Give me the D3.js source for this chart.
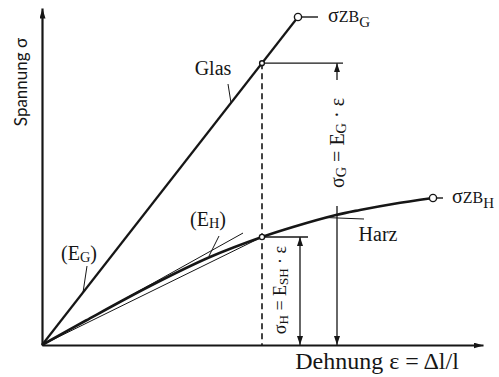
<!DOCTYPE html>
<html>
<head>
<meta charset="utf-8">
<script src="https://cdn.jsdelivr.net/npm/d3@7"></script>
<style>
  html, body { margin: 0; padding: 0; background: #fff; }
  svg { display: block; }
  .serif { font-family: "Liberation Serif", "DejaVu Serif", serif; fill: #161616; }
  .sans { font-family: "Lato", "Open Sans", sans-serif; fill: #161616; }
</style>
</head>
<body>
<svg id="chart" width="499" height="377"></svg>
<script>
// Stress–strain curves: glass (linear to break) and resin (non-linear)
const glassStrain = [0, 2.56];
const glassStress = [0, 3.28];

const resinStrain = [0, 0.44, 1.08, 1.68, 2.20, 2.51, 2.94, 3.18, 3.51, 3.91];
const resinStress = [0, 0.245, 0.59, 0.88, 1.08, 1.18, 1.30, 1.35, 1.41, 1.47];

// common strain at which both stresses are compared
const refStrain = 2.20;
// initial tangent of the resin curve (E_H)
const resinTangentSlope = 0.557;
const resinTangentEnd = 2.01;

const svg = d3.select("#chart");
const ink = "#161616";

const x = d3.scaleLinear().domain([0, 4.41]).range([42, 483]);
const y = d3.scaleLinear().domain([0, 3.37]).range([345, 8]);

const glassModulus = glassStress[1] / glassStrain[1];
const sigmaG = glassModulus * refStrain;
const sigmaH = resinStress[resinStrain.indexOf(refStrain)];

// arrowhead markers
const defs = svg.append("defs");
function marker(id, w, h) {
  defs.append("marker")
    .attr("id", id)
    .attr("viewBox", `0 0 ${w} ${h}`)
    .attr("refX", w).attr("refY", h / 2)
    .attr("markerWidth", w).attr("markerHeight", h)
    .attr("markerUnits", "userSpaceOnUse")
    .attr("orient", "auto-start-reverse")
    .append("path")
    .attr("d", `M0,0 L${w},${h / 2} L0,${h} Z`)
    .attr("fill", ink);
}
marker("axisArrow", 10, 6);
marker("dimArrow", 9, 6);

// axes without ticks
const xAxis = svg.append("g")
  .attr("transform", `translate(0,${y(0)})`)
  .call(d3.axisBottom(x).ticks(0).tickSizeOuter(0));
const yAxis = svg.append("g")
  .attr("transform", `translate(${x(0)},0)`)
  .call(d3.axisLeft(y).ticks(0).tickSizeOuter(0));
[xAxis, yAxis].forEach(g => g.select(".domain")
  .attr("stroke", ink).attr("stroke-width", 2.2));
xAxis.select(".domain").attr("marker-end", "url(#axisArrow)");
yAxis.select(".domain").attr("marker-end", "url(#axisArrow)");

// reference strain (dashed)
svg.append("line")
  .attr("x1", x(refStrain)).attr("x2", x(refStrain))
  .attr("y1", y(sigmaG)).attr("y2", y(0))
  .attr("stroke", ink).attr("stroke-width", 1.6)
  .attr("stroke-dasharray", "6,4");

// resin tangent and secant (thin)
svg.append("line")
  .attr("x1", x(0)).attr("y1", y(0))
  .attr("x2", x(resinTangentEnd)).attr("y2", y(resinTangentSlope * resinTangentEnd))
  .attr("stroke", ink).attr("stroke-width", 1);
svg.append("line")
  .attr("x1", x(0)).attr("y1", y(0))
  .attr("x2", x(refStrain)).attr("y2", y(sigmaH))
  .attr("stroke", ink).attr("stroke-width", 1);

// glass line
const line = d3.line().x(d => x(d[0])).y(d => y(d[1]));
svg.append("path")
  .datum(glassStrain.map((e, i) => [e, glassStress[i]]))
  .attr("d", line)
  .attr("fill", "none").attr("stroke", ink).attr("stroke-width", 2.2);

// resin curve
svg.append("path")
  .datum(resinStrain.map((e, i) => [e, resinStress[i]]))
  .attr("d", line.curve(d3.curveCatmullRom.alpha(0.5)))
  .attr("fill", "none").attr("stroke", ink).attr("stroke-width", 2.6);

// dimension lines
const dimG = 2.95, dimGExt = 3.01;
const dimH = 2.58, dimHExt = 2.66;
function hline(e0, e1, s) {
  svg.append("line")
    .attr("x1", x(e0)).attr("x2", x(e1)).attr("y1", y(s)).attr("y2", y(s))
    .attr("stroke", ink).attr("stroke-width", 1.3);
}
hline(refStrain, dimGExt, sigmaG);
hline(refStrain, dimHExt, sigmaH);

// glass dimension arrow, broken around its label
svg.append("line")
  .attr("x1", x(dimG)).attr("x2", x(dimG))
  .attr("y1", 80).attr("y2", y(sigmaG))
  .attr("stroke", ink).attr("stroke-width", 1.3)
  .attr("marker-end", "url(#dimArrow)");
svg.append("line")
  .attr("x1", x(dimG)).attr("x2", x(dimG))
  .attr("y1", 206).attr("y2", y(0))
  .attr("stroke", ink).attr("stroke-width", 1.3)
  .attr("marker-end", "url(#dimArrow)");

// resin dimension arrow
svg.append("line")
  .attr("x1", x(dimH)).attr("x2", x(dimH))
  .attr("y1", y(sigmaH)).attr("y2", y(0))
  .attr("stroke", ink).attr("stroke-width", 1.3)
  .attr("marker-start", "url(#dimArrow)")
  .attr("marker-end", "url(#dimArrow)");

// break points and the short tails to their labels
const glassBreak = [glassStrain[1], glassStress[1]];
const resinBreak = [resinStrain[resinStrain.length - 1], resinStress[resinStress.length - 1]];
svg.append("line")
  .attr("x1", x(glassBreak[0])).attr("x2", x(glassBreak[0]) + 20)
  .attr("y1", y(glassBreak[1])).attr("y2", y(glassBreak[1]))
  .attr("stroke", ink).attr("stroke-width", 1.4);
svg.append("line")
  .attr("x1", x(resinBreak[0])).attr("x2", x(resinBreak[0]) + 10)
  .attr("y1", y(resinBreak[1])).attr("y2", y(resinBreak[1]))
  .attr("stroke", ink).attr("stroke-width", 1.4);

[[glassBreak, 3.6], [resinBreak, 3.6], [[refStrain, sigmaG], 2.4], [[refStrain, sigmaH], 2.6]]
  .forEach(([p, r]) => {
    svg.append("circle")
      .attr("cx", x(p[0])).attr("cy", y(p[1])).attr("r", r)
      .attr("fill", "#fff").attr("stroke", ink).attr("stroke-width", 1.4);
  });

// leader lines for labels
function leader(x1, y1, x2, y2) {
  svg.append("line")
    .attr("x1", x1).attr("y1", y1).attr("x2", x2).attr("y2", y2)
    .attr("stroke", ink).attr("stroke-width", 1);
}
leader(228, 84, x(1.89), y(glassModulus * 1.89));
leader(87, 266, x(0.41), y(glassModulus * 0.41));
leader(219, 236, x(1.67), y(0.89));
leader(x(2.83), y(1.275), 364, 219);

// texts
function label(tx, ty, parts, size, cls, anchor, rotate) {
  const t = svg.append("text")
    .attr("class", cls || "serif")
    .attr("font-size", size)
    .attr("text-anchor", anchor || "start")
    .attr("transform", `translate(${tx},${ty})` + (rotate ? ` rotate(${rotate})` : ""));
  parts.forEach(p => {
    const s = typeof p === "string" ? { t: p } : p;
    const ts = t.append("tspan").text(s.t);
    if (s.sub !== undefined) ts.attr("font-size", size * (s.scale || 0.72)).attr("dy", s.sub);
    if (s.up) ts.attr("dy", -s.up);
  });
  return t;
}

label(213, 75, ["Glas"], 20, "serif", "middle");
label(378, 241, ["Harz"], 20, "serif", "middle");
label(79, 260, ["(E", { t: "G", sub: 2 }, { t: ")", up: 2 }], 20, "serif", "middle");
label(208, 226, ["(E", { t: "H", sub: 2 }, { t: ")", up: 2 }], 20, "serif", "middle");

label(328, 22, ["\u03C3", { t: "ZB", sub: 0, scale: 0.8 }, { t: "G", sub: 5, scale: 0.75 }], 20, "serif", "start");
label(452, 203, ["\u03C3", { t: "ZB", sub: 0, scale: 0.8 }, { t: "H", sub: 5, scale: 0.75 }], 20, "serif", "start");

label(344, 143, ["\u03C3", { t: "G", sub: 2 }, { t: " = E", up: 2 }, { t: "G", sub: 2 }, { t: " \u00B7 \u03B5", up: 2 }],
  20, "serif", "middle", -90);
label(286, 290, ["\u03C3", { t: "H", sub: 2 }, { t: " = E", up: 2 }, { t: "SH", sub: 2 }, { t: " \u00B7 \u03B5", up: 2 }],
  18, "serif", "middle", -90);

label(27, 82, ["Spannung \u03C3"], 17, "sans", "middle", -90);
label(377, 369, ["Dehnung \u03B5 = \u0394l/l"], 24, "serif", "middle");
</script>
</body>
</html>
